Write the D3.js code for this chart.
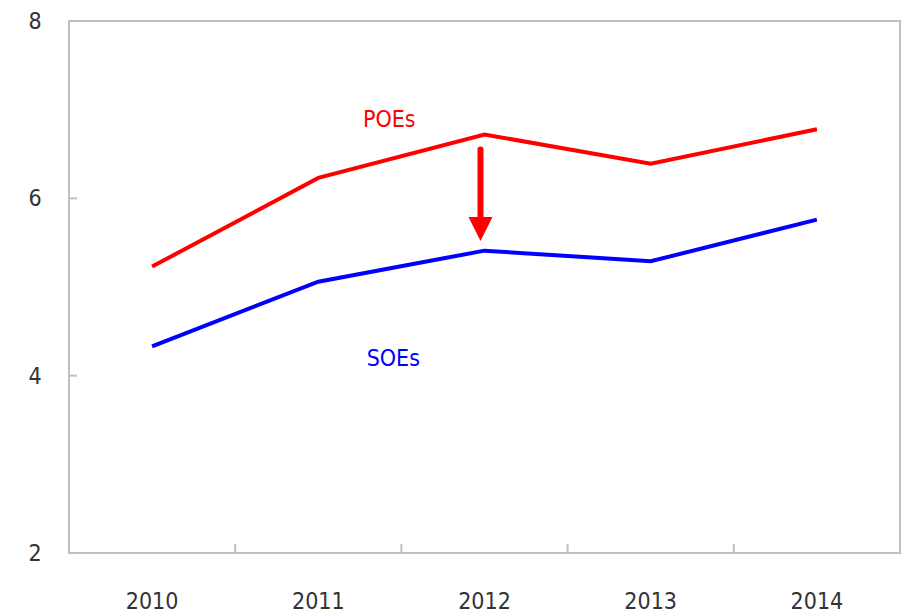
<!DOCTYPE html>
<html>
<head>
<meta charset="utf-8">
<script src="https://cdn.jsdelivr.net/npm/d3@7"></script>
<style>
  body { margin: 0; background: #fff; }
  text { font-family: "Liberation Sans Narrow", "DejaVu Sans Condensed", "Open Sans", sans-serif; }
</style>
</head>
<body>
<svg id="chart" width="910" height="615"></svg>
<script>
// chart data
const years = ["2010", "2011", "2012", "2013", "2014"];
const poes = [5.23, 6.23, 6.72, 6.39, 6.78];
const soes = [4.33, 5.06, 5.41, 5.29, 5.76];
const yTicks = [2, 4, 6, 8];

const svg = d3.select("#chart");
const margin = { top: 21, right: 10, bottom: 62, left: 69 };
const width = 910 - margin.left - margin.right;
const height = 615 - margin.top - margin.bottom;

const g = svg.append("g").attr("transform", `translate(${margin.left},${margin.top})`);

const x = d3.scaleBand().domain(years).range([0, width]);
const y = d3.scaleLinear().domain([2, 8]).range([height, 0]);
const cx = d => x(d) + x.bandwidth() / 2;

// frame
g.append("rect")
    .attr("width", width)
    .attr("height", height)
    .attr("fill", "none")
    .attr("stroke", "#c0c0c0")
    .attr("stroke-width", 2);

// x ticks between categories, pointing up
g.selectAll(".xtick")
    .data(years.slice(1))
    .enter().append("line")
    .attr("x1", d => x(d))
    .attr("x2", d => x(d))
    .attr("y1", height)
    .attr("y2", height - 9)
    .attr("stroke", "#c0c0c0")
    .attr("stroke-width", 2);

// y ticks, pointing in
g.selectAll(".ytick")
    .data(yTicks.slice(1, -1))
    .enter().append("line")
    .attr("x1", 0)
    .attr("x2", 8)
    .attr("y1", d => y(d))
    .attr("y2", d => y(d))
    .attr("stroke", "#c0c0c0")
    .attr("stroke-width", 2);

// y labels
g.selectAll(".ylab")
    .data(yTicks)
    .enter().append("text")
    .attr("x", -34)
    .attr("y", d => y(d))
    .attr("dy", "0.35em")
    .attr("text-anchor", "middle")
    .attr("font-size", 23)
    .attr("fill", "#333")
    .text(d => d);

// x labels
g.selectAll(".xlab")
    .data(years)
    .enter().append("text")
    .attr("x", d => cx(d))
    .attr("y", height + 48)
    .attr("dy", "0.35em")
    .attr("text-anchor", "middle")
    .attr("font-size", 23)
    .attr("fill", "#333")
    .text(d => d);

const line = d3.line()
    .x((d, i) => cx(years[i]))
    .y(d => y(d));

g.append("path").datum(poes)
    .attr("d", line)
    .attr("fill", "none")
    .attr("stroke", "#ff0000")
    .attr("stroke-width", 4);

g.append("path").datum(soes)
    .attr("d", line)
    .attr("fill", "none")
    .attr("stroke", "#0000ff")
    .attr("stroke-width", 4);

// series labels
g.append("text")
    .attr("x", cx("2011") + 71)
    .attr("y", y(6.9))
    .attr("dy", "0.35em")
    .attr("text-anchor", "middle")
    .attr("font-size", 23)
    .attr("fill", "#ff0000")
    .text("POEs");

g.append("text")
    .attr("x", cx("2011") + 75)
    .attr("y", y(4.2))
    .attr("dy", "0.35em")
    .attr("text-anchor", "middle")
    .attr("font-size", 23)
    .attr("fill", "#0000ff")
    .text("SOEs");

// arrow at 2012 from POE line down to SOE line
const ax = cx("2012") - 4;
const aTop = y(6.55);
const aTip = y(5.52);
const headLen = 24;
g.append("line")
    .attr("x1", ax).attr("x2", ax)
    .attr("y1", aTop).attr("y2", aTip - headLen + 2)
    .attr("stroke", "#ff0000")
    .attr("stroke-width", 6)
    .attr("stroke-linecap", "round");
g.append("path")
    .attr("d", `M${ax - 12},${aTip - headLen} L${ax + 12},${aTip - headLen} L${ax},${aTip} Z`)
    .attr("fill", "#ff0000");
</script>
</body>
</html>
